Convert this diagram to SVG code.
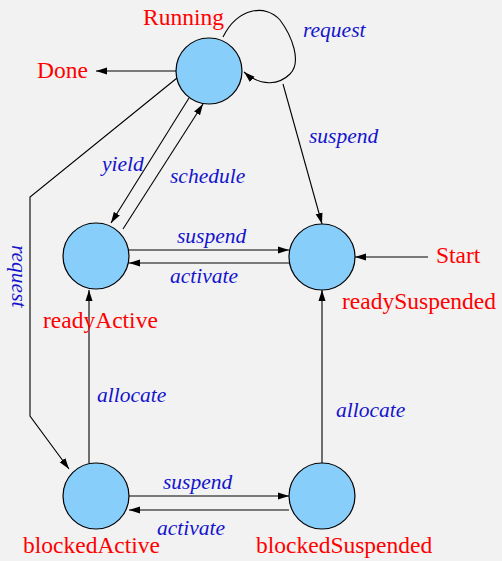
<svg xmlns="http://www.w3.org/2000/svg" width="502" height="561" viewBox="0 0 502 561">
<defs>
<marker id="ah" markerWidth="12" markerHeight="8" refX="11" refY="4" orient="auto" markerUnits="userSpaceOnUse"><path d="M0,0.5 L11,4 L0,7.5 Z" fill="#000"/></marker>
<style>
.st{fill:#87cefa;stroke:#000;stroke-width:1.2}
.nm{font-family:"Liberation Serif","Times New Roman",serif;font-size:23.5px;fill:#ff0000}
.lb{font-family:"Liberation Serif","Times New Roman",serif;font-size:21.5px;font-style:italic;fill:#1414cc}
.cn{fill:none;stroke:#000;stroke-width:1.1;marker-end:url(#ah)}
</style>
</defs>
<rect width="502" height="561" fill="#f2f2f2"/>
<g id="connectors">
<path class="cn" d="M176,71 L96,71"/>
<path class="cn" d="M223,37 C238,7 266,4 280,20 C292,36 302,62 290,74 C280,84 262,88 244,72"/>
<path class="cn" d="M283,84 L322,224"/>
<path class="cn" d="M189,98 L111,223"/>
<path class="cn" d="M123,229 L203,104"/>
<path class="cn" d="M177,78 L30,197 L30,416 L69,469"/>
<path class="cn" d="M129,250 L289,250"/>
<path class="cn" d="M289,263 L129,263"/>
<path class="cn" d="M428,257 L355,257"/>
<path class="cn" d="M89,463 L89,290"/>
<path class="cn" d="M322,463 L322,290"/>
<path class="cn" d="M129,496 L289,496"/>
<path class="cn" d="M289,510 L129,510"/>
<text class="lb" x="303" y="37">request</text>
<text class="lb" x="309" y="143">suspend</text>
<text class="lb" x="102" y="171">yield</text>
<text class="lb" x="170" y="183">schedule</text>
<text class="lb" x="177" y="243">suspend</text>
<text class="lb" x="170" y="283">activate</text>
<text class="lb" transform="translate(12,245) rotate(90)">request</text>
<text class="lb" x="97" y="402">allocate</text>
<text class="lb" x="336" y="417">allocate</text>
<text class="lb" x="163" y="489">suspend</text>
<text class="lb" x="157" y="535">activate</text>
</g>
<g id="Running"><circle class="st" cx="209" cy="71" r="33"/><text class="nm" x="143" y="25">Running</text></g>
<g id="Done"><text class="nm" x="37" y="78">Done</text></g>
<g id="Start"><text class="nm" x="436" y="263">Start</text></g>
<g id="readyActive"><circle class="st" cx="96" cy="256" r="33"/><text class="nm" x="43" y="328">readyActive</text></g>
<g id="readySuspended"><circle class="st" cx="322" cy="257" r="33"/><text class="nm" x="342" y="309">readySuspended</text></g>
<g id="blockedActive"><circle class="st" cx="96" cy="496" r="33"/><text class="nm" x="23" y="553">blockedActive</text></g>
<g id="blockedSuspended"><circle class="st" cx="322" cy="496" r="33"/><text class="nm" x="256" y="553">blockedSuspended</text></g>
</svg>
